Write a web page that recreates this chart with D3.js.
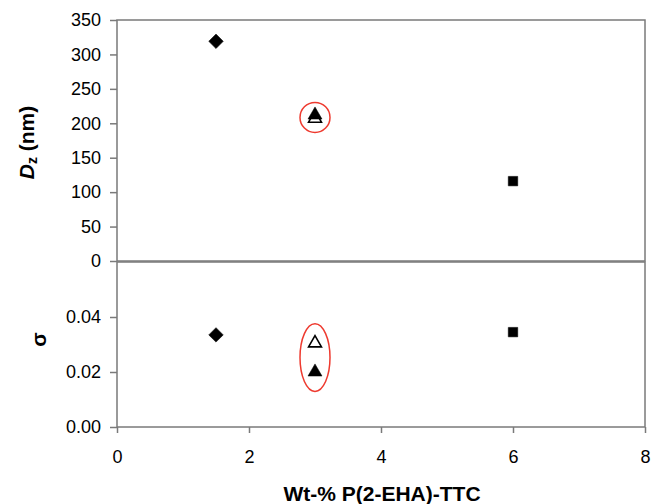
<!DOCTYPE html>
<html>
<head>
<meta charset="utf-8">
<script src="https://cdn.jsdelivr.net/npm/d3@7"></script>
<style>
  body { margin: 0; background: #fff; }
  text { font-family: "Liberation Sans", Arial, sans-serif; }
</style>
</head>
<body>
<div id="chart"></div>
<script>
// data
var wtPct = [1.5, 3, 3, 6];
var markers = ['diamond', 'triangleOpen', 'triangle', 'square'];
var dzValues = [319, 207, 212, 116];
var sigmaValues = [0.0335, 0.0305, 0.0200, 0.0345];
var xTicks = [0, 2, 4, 6, 8];
var dzTicks = [0, 50, 100, 150, 200, 250, 300, 350];
var sigmaTicks = [0, 0.02, 0.04];
// highlighted group (red rings) : x value and y range per panel
var ringX = 3;
var ringDz = [210, 210];
var ringSigma = [0.0195, 0.031];

var width = 653, height = 504;
var left = 117, right = 645;
var topPanel = {y0: 20, y1: 261};
var botPanel = {y0: 262, y1: 427};
var axisColor = '#7a7a7a';

var svg = d3.select('#chart').append('svg')
    .attr('width', width)
    .attr('height', height);

var x = d3.scaleLinear().domain([0, 8]).range([left, right]);
var yDz = d3.scaleLinear().domain([0, 350]).range([topPanel.y1, topPanel.y0]);
var ySig = d3.scaleLinear().domain([0, 0.06]).range([botPanel.y1, botPanel.y0]);

function frame(p) {
    svg.append('rect')
        .attr('x', left).attr('y', p.y0)
        .attr('width', right - left).attr('height', p.y1 - p.y0)
        .attr('fill', 'none')
        .attr('stroke', axisColor)
        .attr('stroke-width', 1.5);
}
frame(topPanel);
frame(botPanel);

function styleAxis(g) {
    g.select('.domain').remove();
    g.selectAll('.tick line').attr('stroke', axisColor).attr('stroke-width', 1.5);
    g.selectAll('.tick text')
        .attr('fill', '#000')
        .style('font-size', '18px')
        .style('font-family', '"Liberation Sans", Arial, sans-serif');
}

svg.append('g')
    .attr('transform', 'translate(' + left + ',0)')
    .call(d3.axisLeft(yDz).tickValues(dzTicks).tickSize(7).tickPadding(9))
    .call(styleAxis);

svg.append('g')
    .attr('transform', 'translate(' + left + ',0)')
    .call(d3.axisLeft(ySig).tickValues(sigmaTicks).tickSize(7).tickPadding(9)
        .tickFormat(d3.format('.2f')))
    .call(styleAxis);

svg.append('g')
    .attr('transform', 'translate(0,' + botPanel.y1 + ')')
    .call(d3.axisBottom(x).tickValues(xTicks).tickSize(6).tickPadding(17))
    .call(styleAxis);

// markers; the diamond is a square turned 45 degrees
var symbolFor = {
    diamond: {type: d3.symbolSquare, size: 105, fill: '#000', rot: 45},
    square: {type: d3.symbolSquare, size: 90, fill: '#000', rot: 0},
    triangle: {type: d3.symbolTriangle, size: 85, fill: '#000', rot: 0},
    triangleOpen: {type: d3.symbolTriangle, size: 72, fill: '#fff', rot: 0}
};

function drawPoints(yScale, values) {
    var pts = wtPct.map(function (d, i) {
        return {x: d, y: values[i], m: markers[i]};
    });
    svg.append('g').selectAll('path')
        .data(pts)
        .enter()
        .append('path')
        .attr('transform', function (d) {
            return 'translate(' + x(d.x) + ',' + yScale(d.y) + ') rotate(' + symbolFor[d.m].rot + ')';
        })
        .attr('d', function (d) {
            var s = symbolFor[d.m];
            return d3.symbol().type(s.type).size(s.size)();
        })
        .attr('fill', function (d) { return symbolFor[d.m].fill; })
        .attr('stroke', '#000')
        .attr('stroke-width', function (d) { return d.m === 'triangleOpen' ? 1.6 : 0.5; });
}
drawPoints(yDz, dzValues);
drawPoints(ySig, sigmaValues);

// red rings round the triangles
svg.append('ellipse')
    .attr('cx', x(ringX))
    .attr('cy', yDz((ringDz[0] + ringDz[1]) / 2) + 1)
    .attr('rx', 15).attr('ry', 15)
    .attr('fill', 'none').attr('stroke', '#ee3a2f').attr('stroke-width', 1.5);
svg.append('ellipse')
    .attr('cx', x(ringX))
    .attr('cy', (ySig(ringSigma[0]) + ySig(ringSigma[1])) / 2)
    .attr('rx', 15)
    .attr('ry', (ySig(ringSigma[0]) - ySig(ringSigma[1])) / 2 + 18)
    .attr('fill', 'none').attr('stroke', '#ee3a2f').attr('stroke-width', 1.5);

// axis titles
var dzTitle = svg.append('text')
    .attr('transform', 'translate(34,' + ((topPanel.y0 + topPanel.y1) / 2 + 2) + ') rotate(-90)')
    .attr('text-anchor', 'middle')
    .style('font-size', '21px')
    .style('font-weight', 'bold');
dzTitle.append('tspan').style('font-style', 'italic').text('D');
dzTitle.append('tspan').attr('dy', 3).style('font-size', '14px').text('z');
dzTitle.append('tspan').attr('dy', -3).text(' (nm)');

svg.append('text')
    .attr('transform', 'translate(46,' + ((botPanel.y0 + botPanel.y1) / 2 - 5) + ') rotate(-90)')
    .attr('text-anchor', 'middle')
    .style('font-size', '21px')
    .style('font-weight', 'bold')
    .text('σ');

svg.append('text')
    .attr('x', (left + right) / 2 + 1)
    .attr('y', 501)
    .attr('text-anchor', 'middle')
    .style('font-size', '21px')
    .style('font-weight', 'bold')
    .text('Wt-% P(2-EHA)-TTC');
</script>
</body>
</html>
